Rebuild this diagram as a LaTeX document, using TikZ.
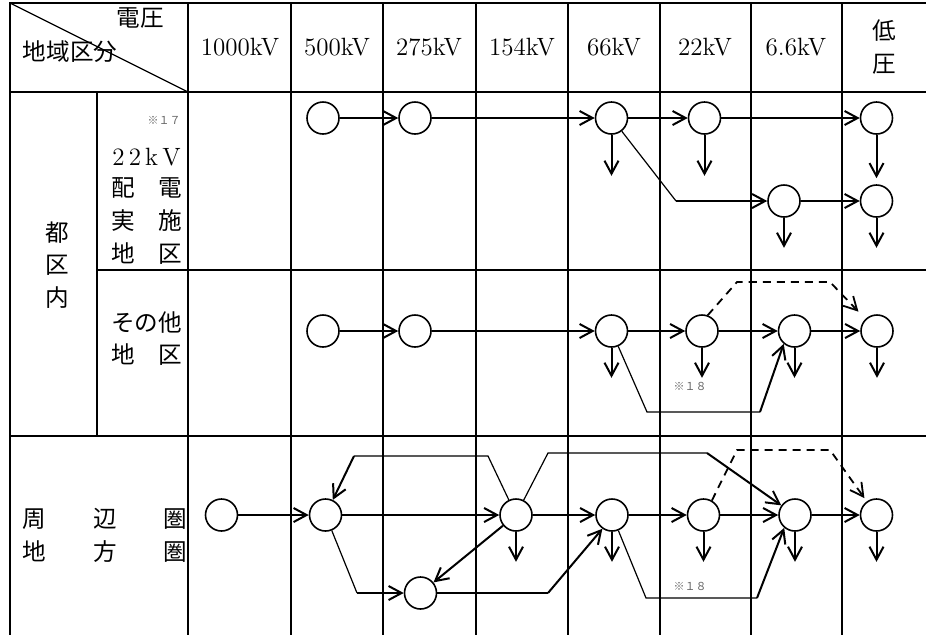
\documentclass[tikz,border=0pt]{standalone}
\usepackage{fontspec}
\newfontfamily\jpfont{Noto Sans CJK JP}
\usetikzlibrary{arrows.meta}

\begin{document}
\begin{tikzpicture}[x=0.5pt, y=-0.5pt,
    >={Straight Barb[length=6.5pt,width=7pt]},
    grid/.style={line width=1.4pt, line cap=rect},
    stn/.style={circle, draw, line width=0.8pt, minimum size=16pt, inner sep=0pt},
    flow/.style={->, line width=1pt},
    link/.style={line width=0.6pt},
    spare/.style={->, line width=0.9pt, dash pattern=on 4pt off 3pt},
    lbl/.style={font=\jpfont\fontsize{11.8}{16.3}\selectfont, inner sep=0pt, align=center},
    volt/.style={font=\fontsize{12.5}{15}\selectfont, inner sep=0pt},
    note/.style={font=\jpfont\fontsize{5.5}{6}\selectfont, text=black!60, inner sep=0pt}]
\useasboundingbox (0,0) rectangle (926,634);

% table
\draw[grid] (10,3) -- (926,3);
\draw[grid] (10,92) -- (926,92);
\draw[grid] (97,270) -- (926,270);
\draw[grid] (10,436) -- (926,436);
\draw[grid] (10,3) -- (10,634);
\draw[grid] (97,92) -- (97,436);
\foreach \x in {188,291,383,476,568,660,751,842}
  \draw[grid] (\x,3) -- (\x,634);
\draw[link] (10,3) -- (188,92);

% header
\node[lbl] (hv) at (140,18) {電圧};
\node[lbl] (ha) at (70,52) {地域区分};
\node[volt] (h1000) at (240,47) {1000kV};
\node[volt] (h500) at (337,47) {500kV};
\node[volt] (h275) at (429,47) {275kV};
\node[volt] (h154) at (522,47) {154kV};
\node[volt] (h66) at (614,47) {66kV};
\node[volt] (h22) at (705,47) {22kV};
\node[volt] (h6) at (796,47) {6.6kV};
\node[lbl] (hlow) at (884,47) {低\\圧};

% left column
\node[lbl] (ku) at (57,265) {都\\区\\内};
\node[note, anchor=east] (n17) at (181,120) {※１７};
\node[volt] (t22) at (146.5,157) {2\,2\,k\,V};
\node[lbl] (tarea) at (146.5,221) {配　電\\実　施\\地　区};
\node[lbl] (oarea) at (146.5,338.5) {その他\\地　区};
\node[lbl, align=left, anchor=west] (sarea) at (22,535.5) {周　　辺　　圏\\地　　方　　圏};

% row 1 : 22kV distribution area
\node[stn] (T500) at (323,118) {};
\node[stn] (T275) at (415,118) {};
\node[stn] (T66) at (611.5,118) {};
\node[stn] (T22) at (704.5,118) {};
\node[stn] (TL) at (876.5,118) {};
\node[stn] (T6) at (784,201) {};
\node[stn] (TL2) at (876.5,201) {};
\coordinate (tk) at (676,201);
\draw[flow] (T500) -- (T275);
\draw[flow] (T275) -- (T66);
\draw[flow] (T66) -- (T22);
\draw[flow] (T22) -- (TL);
\draw[flow, shorten >=3pt] (TL) -- (TL2);
\draw[link] (T66) -- (tk);
\draw[flow] (tk) -- (T6);
\draw[flow] (T6) -- (TL2);
\draw[flow] (T66.south) -- ++(0,41);
\draw[flow] (T22.south) -- ++(0,41);
\draw[flow] (T6.south) -- ++(0,30);
\draw[flow] (TL2.south) -- ++(0,30);

% row 2 : other area
\node[stn] (O500) at (323,331) {};
\node[stn] (O275) at (415,331) {};
\node[stn] (O66) at (611.5,331) {};
\node[stn] (O22) at (702,331) {};
\node[stn] (O6) at (794.5,331) {};
\node[stn] (OL) at (877,331) {};
\coordinate (ob1) at (647,412);
\coordinate (ob2) at (760,412);
\coordinate (od1) at (737,282);
\coordinate (od2) at (830,282);
\draw[flow] (O500) -- (O275);
\draw[flow] (O275) -- (O66);
\draw[flow] (O66) -- (O22);
\draw[flow] (O22) -- (O6);
\draw[flow] (O6) -- (OL);
\draw[link] (O66) -- (ob1) -- (ob2);
\draw[flow] (ob2) -- (O6.-130);
\draw[spare, shorten >=5pt] (O22.70) -- (od1) -- (od2) -- (OL);
\foreach \n in {O66,O22,O6,OL}
  \draw[flow] (\n.south) -- ++(0,30);
\node[note] (n18a) at (690,386) {※１８};

% row 3 : outer area
\node[stn] (S1000) at (221.5,515) {};
\node[stn] (S500) at (325.5,515) {};
\node[stn] (S275) at (420.5,593) {};
\node[stn] (S154) at (516,515) {};
\node[stn] (S66) at (612,515) {};
\node[stn] (S22) at (703.5,515) {};
\node[stn] (S6) at (795,515) {};
\node[stn] (SL) at (876.5,515) {};
\coordinate (su1) at (488,456);
\coordinate (su2) at (354,456);
\coordinate (sd1) at (357,593);
\coordinate (sr1) at (548,593);
\coordinate (sv1) at (548,453);
\coordinate (sv2) at (707,453);
\coordinate (sb1) at (646,598);
\coordinate (sb2) at (757,598);
\coordinate (sd2) at (737,450);
\coordinate (sd3) at (830,450);
\draw[flow] (S1000) -- (S500);
\draw[flow] (S500) -- (S154);
\draw[flow] (S154) -- (S66);
\draw[flow] (S66) -- (S22);
\draw[flow] (S22) -- (S6);
\draw[flow] (S6) -- (SL);
\draw[link] (S154) -- (su1) -- (su2);
\draw[flow] (su2) -- (S500);
\draw[link] (S500) -- (sd1);
\draw[flow] (sd1) -- (S275);
\draw[flow] (S154) -- (S275);
\draw[link] (S275) -- (sr1);
\draw[flow] (sr1) -- (S66.-125);
\draw[link] (S154) -- (sv1) -- (sv2);
\draw[flow] (sv2) -- (S6);
\draw[link] (S66) -- (sb1) -- (sb2);
\draw[flow] (sb2) -- (S6.-130);
\draw[spare, shorten >=2pt] (S22.60) -- (sd2) -- (sd3) -- (SL);
\foreach \n in {S154,S66,S22,S6,SL}
  \draw[flow] (\n.south) -- ++(0,30);
\node[note] (n18b) at (690,586) {※１８};

\end{tikzpicture}
\end{document}
